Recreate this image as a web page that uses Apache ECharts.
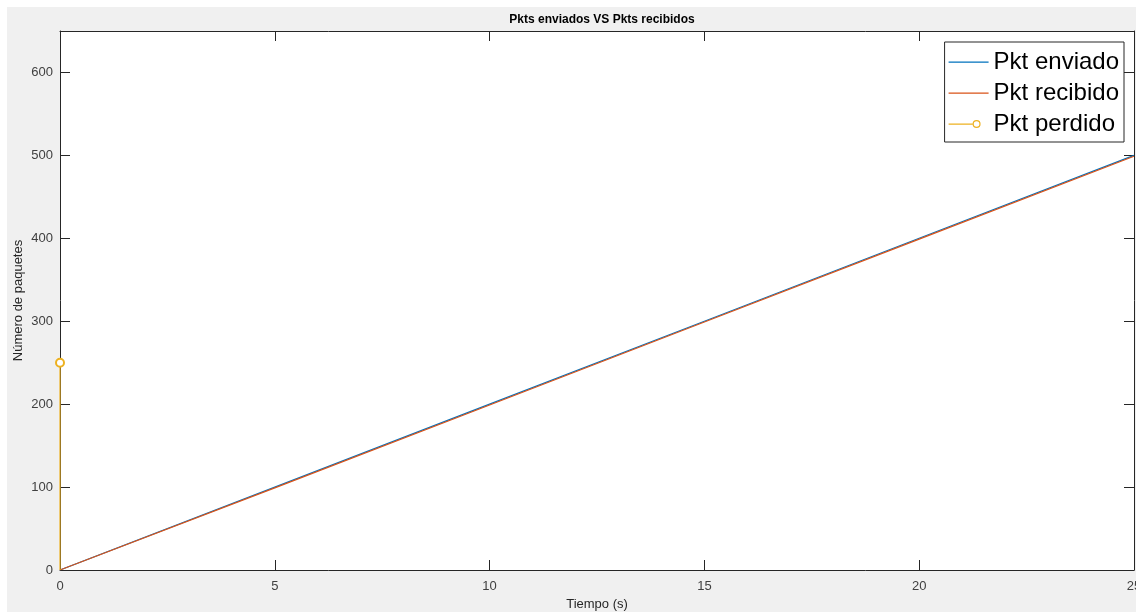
<!DOCTYPE html>
<html>
<head>
<meta charset="utf-8">
<script src="https://cdn.jsdelivr.net/npm/echarts@6/dist/echarts.min.js"></script>
<style>
  html, body { margin: 0; padding: 0; background: #fff; }
  #chart { width: 1136px; height: 612px; }
</style>
</head>
<body>
<div id="chart"></div>
<script>
// datos
var tiempo = [0, 5, 10, 15, 20, 25];
var pktEnviado = [0, 100, 200, 300, 400, 500];
var pktRecibido = [0, 99, 199, 299, 399, 499];
var tiempoPerdido = [0];
var pktPerdido = [250];
var yTicks = [0, 100, 200, 300, 400, 500, 600];

var chart = echarts.init(document.getElementById('chart'));

function pares(xs, ys) {
  var out = [];
  for (var i = 0; i < xs.length; i++) out.push([xs[i], ys[i]]);
  return out;
}

// stem: linea desde 0 hasta el valor, circulo solo arriba
var stemData = [];
for (var i = 0; i < tiempoPerdido.length; i++) {
  stemData.push({ value: [tiempoPerdido[i], 0], symbol: 'none' });
  stemData.push({ value: [tiempoPerdido[i], pktPerdido[i]] });
  stemData.push({ value: [tiempoPerdido[i], null] });
}

var ejeColor = '#262626';
var fuente = 'Liberation Sans, Arial, sans-serif';

// iconos de leyenda estilo matlab (los puntos M0,0 y M40,14 fijan la caja 40x14)
var iconoLinea = 'path://M0,0 L0,0 Z M0,6.5 L40,6.5 L40,7.7 L0,7.7 Z M40,14 L40,14 Z';
var iconoStem = 'path://M0,0 L0,0 Z M0,6.5 L24,6.5 L24,7.7 L0,7.7 Z ' +
  'M32,7 A4,4 0 1,0 24,7 A4,4 0 1,0 32,7 Z ' +
  'M30.8,7 A2.8,2.8 0 1,1 25.2,7 A2.8,2.8 0 1,1 30.8,7 Z M40,14 L40,14 Z';

function eje(extra) {
  var base = {
    type: 'value',
    axisLine: { show: true, onZero: false, lineStyle: { color: ejeColor, width: 1 } },
    axisTick: { inside: true, length: 10, lineStyle: { color: ejeColor } },
    splitLine: { show: false }
  };
  for (var k in extra) base[k] = extra[k];
  return base;
}

var option = {
  backgroundColor: 'transparent',
  animation: false,
  graphic: [{
    type: 'rect', left: 7, top: 7, z: -10, silent: true,
    shape: { width: 1129, height: 605 },
    style: { fill: '#f0f0f0' }
  }],
  title: {
    text: 'Pkts enviados VS Pkts recibidos',
    left: 597, top: 9, textAlign: 'center',
    textStyle: { fontFamily: fuente, fontSize: 12, fontWeight: 'bold', color: '#000' }
  },
  grid: {
    left: 60, right: 2, top: 31, bottom: 42,
    outerBoundsMode: 'none',
    show: true, backgroundColor: '#fff', borderWidth: 0
  },
  legend: {
    orient: 'vertical',
    right: 12, top: 42,
    backgroundColor: '#fff',
    borderColor: '#262626', borderWidth: 1,
    padding: [8, 5, 6, 4],
    itemGap: 7,
    itemWidth: 40, itemHeight: 14,
    textStyle: { fontFamily: fuente, fontSize: 24, color: '#000' },
    data: [
      { name: 'Pkt enviado', icon: iconoLinea },
      { name: 'Pkt recibido', icon: iconoLinea },
      { name: 'Pkt perdido', icon: iconoStem }
    ]
  },
  xAxis: [eje({
    min: 0, max: 25, interval: 5,
    name: 'Tiempo (s)', nameLocation: 'middle', nameGap: 28, nameMoveOverlap: false,
    nameTextStyle: { fontFamily: fuente, fontSize: 13, color: ejeColor },
    axisLabel: { margin: 10, fontFamily: fuente, fontSize: 13, color: '#404040' }
  }), eje({
    position: 'top', min: 0, max: 25, interval: 5,
    axisLabel: { show: false }
  })],
  yAxis: [eje({
    min: 0, max: 650, interval: 100,
    name: 'Número de paquetes', nameLocation: 'middle', nameGap: 35, nameMoveOverlap: false,
    nameTextStyle: { fontFamily: fuente, fontSize: 13, color: ejeColor },
    axisLabel: {
      margin: 7, fontFamily: fuente, fontSize: 13, color: '#404040',
      formatter: function (v) { return yTicks.indexOf(v) >= 0 ? String(v) : ''; }
    }
  }), eje({
    position: 'right', min: 0, max: 650, interval: 100,
    axisLabel: { show: false }
  })],
  series: [{
    name: 'Pkt enviado', type: 'line',
    data: pares(tiempo, pktEnviado),
    symbol: 'none', color: '#0072BD',
    lineStyle: { width: 1.2 }
  }, {
    name: 'Pkt recibido', type: 'line',
    data: pares(tiempo, pktRecibido),
    symbol: 'none', color: '#D95319',
    lineStyle: { width: 1.2 }
  }, {
    name: 'Pkt perdido', type: 'line',
    data: stemData, connectNulls: false,
    symbol: 'emptyCircle', symbolSize: 8, showSymbol: true,
    color: '#EDB120', clip: false,
    lineStyle: { width: 1.2 },
    itemStyle: { borderWidth: 1.2 }
  }]
};

chart.setOption(option);
window.onresize = function () { chart.resize(); };
</script>
</body>
</html>
